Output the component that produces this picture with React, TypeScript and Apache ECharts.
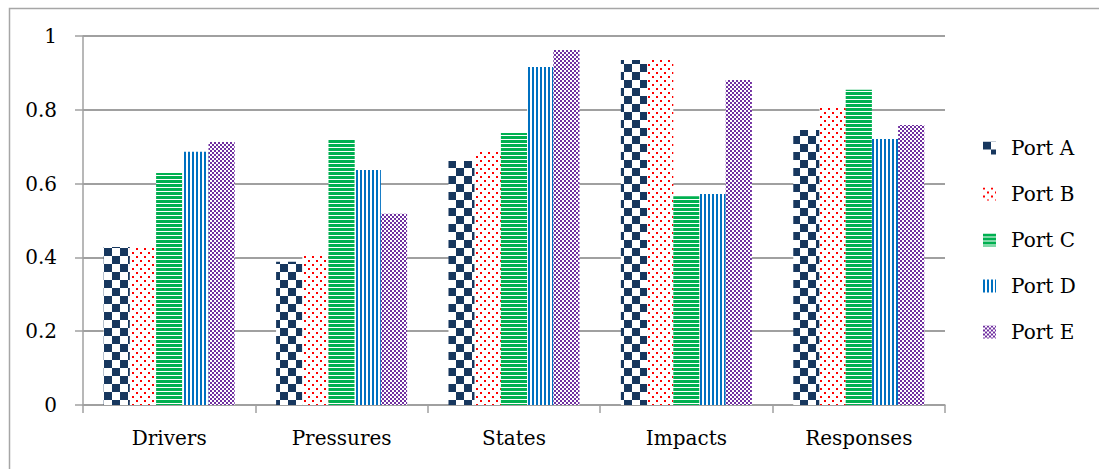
import React, { useEffect, useRef } from "react";
import * as echarts from "echarts";

const categories = ["Drivers", "Pressures", "States", "Impacts", "Responses"];
const seriesNames = ["Port A", "Port B", "Port C", "Port D", "Port E"];
const portA = [0.428, 0.388, 0.661, 0.935, 0.745];
const portB = [0.428, 0.404, 0.691, 0.94, 0.81];
const portC = [0.629, 0.718, 0.737, 0.566, 0.854];
const portD = [0.686, 0.637, 0.916, 0.572, 0.721];
const portE = [0.713, 0.518, 0.962, 0.881, 0.759];
const seriesValues = [portA, portB, portC, portD, portE];
const yTicks = [0, 0.2, 0.4, 0.6, 0.8, 1];

function makeCanvas(w: number, h: number, draw: (c: CanvasRenderingContext2D) => void) {
  const cv = document.createElement("canvas");
  cv.width = w;
  cv.height = h;
  const ctx = cv.getContext("2d")!;
  ctx.fillStyle = "#ffffff";
  ctx.fillRect(0, 0, w, h);
  draw(ctx);
  return cv;
}

function patterns() {
  const a = makeCanvas(16, 16, (c) => {
    c.fillStyle = "#17375E";
    c.fillRect(0, 0, 8, 8);
    c.fillRect(8, 8, 8, 8);
  });
  const b = makeCanvas(8, 8, (c) => {
    c.fillStyle = "#FF0000";
    c.fillRect(0, 0, 2, 2);
    c.fillRect(4, 4, 2, 2);
  });
  const cc = makeCanvas(4, 4, (c) => {
    c.fillStyle = "#00B050";
    c.fillRect(0, 0, 4, 3);
  });
  const d = makeCanvas(4, 4, (c) => {
    c.fillStyle = "#0070C0";
    c.fillRect(0, 0, 2, 4);
  });
  const e = makeCanvas(4, 4, (c) => {
    c.fillStyle = "#7030A0";
    c.fillRect(0, 0, 2, 2);
    c.fillRect(2, 2, 2, 2);
  });
  return [a, b, cc, d, e].map((img) => ({ image: img, repeat: "repeat" }));
}

const FONT = "DejaVu Serif";

export default function App() {
  const ref = useRef<HTMLDivElement>(null);
  useEffect(() => {
    if (!ref.current) return;
    const chart = echarts.init(ref.current, undefined, { renderer: "svg" });
    const pats = patterns();
    chart.setOption({
      animation: false,
      backgroundColor: "#ffffff",
      graphic: [
        {
          type: "rect",
          left: 7,
          top: 6,
          shape: { width: 1200, height: 600 },
          style: { fill: "none", stroke: "#a6a6a6", lineWidth: 1.5 },
          silent: true,
        },
      ],
      grid: { left: 83, right: 154, top: 36, bottom: 64 },
      legend: {
        orient: "vertical",
        left: 978,
        top: 133,
        itemWidth: 13,
        itemHeight: 13,
        itemGap: 26,
        icon: "rect",
        data: seriesNames,
        textStyle: { fontFamily: FONT, fontSize: 20, color: "#000000", padding: [0, 0, 0, 10] },
      },
      xAxis: {
        type: "category",
        data: categories,
        axisLine: { lineStyle: { color: "#a0a0a0", width: 1.5 } },
        axisTick: { show: true, length: 8, lineStyle: { color: "#a0a0a0", width: 1.5 } },
        axisLabel: { fontFamily: FONT, fontSize: 20, color: "#000000", margin: 23 },
      },
      yAxis: {
        type: "value",
        min: 0,
        max: 1,
        interval: 0.2,
        axisLine: { show: true, lineStyle: { color: "#a0a0a0", width: 1.5 } },
        axisTick: { show: true, length: 8, lineStyle: { color: "#a0a0a0", width: 1.5 } },
        splitLine: { lineStyle: { color: "#a0a0a0", width: 2 } },
        axisLabel: {
          fontFamily: FONT,
          fontSize: 20,
          color: "#000000",
          margin: 26,
          align: "right",
          formatter: (v: number) => (yTicks.includes(Math.round(v * 10) / 10) ? String(Math.round(v * 10) / 10) : ""),
        },
      },
      series: seriesNames.map((name, i) => ({
        name,
        type: "bar",
        data: seriesValues[i],
        barGap: "0%",
        barCategoryGap: "24%",
        itemStyle: { color: pats[i] },
      })),
    });
    return () => chart.dispose();
  }, []);
  return (
    <div
      ref={ref}
      style={{ position: "absolute", left: 0, top: 0, width: 1099, height: 469 }}
    />
  );
}
